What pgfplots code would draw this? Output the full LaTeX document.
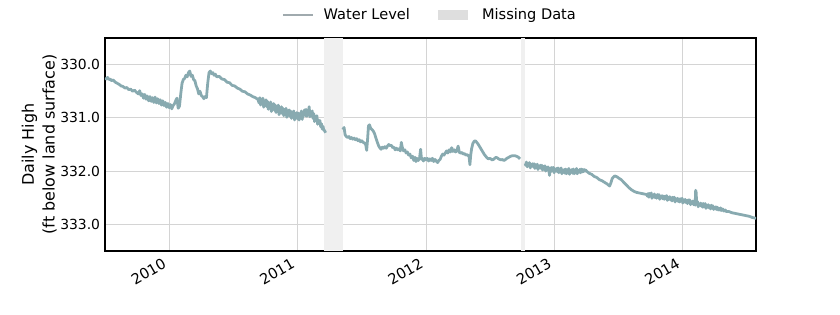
\documentclass[border=0pt]{standalone}
\usepackage{fontspec}
\setmainfont{DejaVu Sans}
\usepackage{pgfplots}
\pgfplotsset{compat=1.18}
\definecolor{wl}{RGB}{136,170,176}
\definecolor{wlleg}{RGB}{160,170,174}
\definecolor{gapc}{RGB}{240,240,240}
\definecolor{gapleg}{RGB}{222,222,222}
\definecolor{gridc}{RGB}{212,212,212}
\begin{document}
\begin{tikzpicture}
\useasboundingbox (-75.6pt,-46.08pt) rectangle (529.2pt,180.72pt);
\begin{axis}[
  at={(0pt,0pt)}, anchor=south west,
  scale only axis, width=468.72pt, height=153.36pt,
  xmin=2009.5, xmax=2014.57,
  ymin=329.5, ymax=333.5, y dir=reverse,
  xtick={2010,2011,2012,2013,2014},
  ytick={330,331,332,333},
  major tick length=0pt,
  grid=major,
  major grid style={gridc, line width=0.6pt},
  axis line style={black, line width=0.8pt},
  tick label style={font=\fontsize{10}{12}\selectfont},
  /pgf/number format/assume math mode=true,
  xticklabel style={font=\fontsize{10.5}{12}\selectfont, xshift=-4pt, rotate=30, anchor=north east, /pgf/number format/1000 sep={}},
  yticklabel style={/pgf/number format/.cd, fixed, fixed zerofill, precision=1, 1000 sep={}},
  ylabel={Daily High\\(ft below land surface)},
  ylabel style={align=center, font=\fontsize{11.5}{15}\selectfont, at={(axis description cs:-0.101,0.5)}, anchor=center},
  legend style={draw=none, fill=none, at={(0.5,1)}, anchor=center, yshift=16.6pt,
    font=\fontsize{10.5}{12}\selectfont,
    nodes={font=\fontsize{10.5}{12}\selectfont},
    /tikz/every odd column/.append style={column sep=5pt},
    /tikz/every even column/.append style={column sep=18pt}},
  legend columns=2,
  legend cell align=left,
]
% missing-data bands
\addplot[fill=gapc, draw=none, forget plot] coordinates {(2011.206,329.5) (2011.354,329.5) (2011.354,333.5) (2011.206,333.5)} -- cycle;
\addplot[fill=gapc, draw=none, forget plot] coordinates {(2012.740,329.5) (2012.768,329.5) (2012.768,333.5) (2012.740,333.5)} -- cycle;
% segment 1
\addplot[wl, line width=2pt, line join=round,
  legend image code/.code={\draw[wlleg, line width=0.8pt] (0pt,0pt) -- (22pt,0pt);}] table {
x y
2009.500 330.25
2009.510 330.27
2009.520 330.24
2009.530 330.28
2009.540 330.27
2009.550 330.30
2009.565 330.29
2009.580 330.33
2009.595 330.35
2009.610 330.37
2009.625 330.40
2009.640 330.41
2009.655 330.44
2009.670 330.43
2009.685 330.47
2009.700 330.46
2009.715 330.50
2009.730 330.48
2009.745 330.52
2009.760 330.55
2009.770 330.49
2009.780 330.58
2009.790 330.55
2009.800 330.63
2009.810 330.56
2009.820 330.65
2009.830 330.59
2009.840 330.68
2009.850 330.60
2009.860 330.69
2009.870 330.62
2009.880 330.71
2009.890 330.61
2009.900 330.72
2009.910 330.64
2009.920 330.73
2009.930 330.66
2009.940 330.76
2009.950 330.68
2009.960 330.77
2009.970 330.71
2009.980 330.80
2009.990 330.73
2010.000 330.81
2010.010 330.75
2010.020 330.83
2010.030 330.77
2010.040 330.74
2010.050 330.68
2010.060 330.63
2010.070 330.82
2010.080 330.78
2010.090 330.55
2010.100 330.35
2010.110 330.28
2010.120 330.26
2010.130 330.20
2010.140 330.23
2010.150 330.15
2010.160 330.12
2010.170 330.22
2010.180 330.20
2010.190 330.28
2010.200 330.30
2010.210 330.40
2010.220 330.45
2010.230 330.55
2010.240 330.50
2010.250 330.58
2010.260 330.60
2010.270 330.64
2010.280 330.60
2010.290 330.62
2010.300 330.35
2010.310 330.15
2010.320 330.12
2010.330 330.17
2010.340 330.15
2010.350 330.20
2010.360 330.18
2010.370 330.23
2010.390 330.22
2010.410 330.27
2010.430 330.28
2010.450 330.33
2010.470 330.34
2010.490 330.39
2010.510 330.40
2010.530 330.44
2010.550 330.46
2010.570 330.50
2010.590 330.51
2010.610 330.55
2010.630 330.57
2010.650 330.60
2010.670 330.62
2010.690 330.65
2010.700 330.72
2010.706 330.62
2010.712 330.76
2010.718 330.65
2010.724 330.73
2010.730 330.63
2010.736 330.80
2010.742 330.69
2010.748 330.75
2010.754 330.66
2010.760 330.79
2010.766 330.69
2010.772 330.84
2010.778 330.72
2010.784 330.80
2010.790 330.70
2010.796 330.88
2010.802 330.76
2010.808 330.82
2010.814 330.73
2010.820 330.86
2010.826 330.76
2010.832 330.90
2010.838 330.79
2010.844 330.86
2010.850 330.76
2010.856 330.94
2010.862 330.82
2010.868 330.88
2010.874 330.79
2010.880 330.92
2010.886 330.82
2010.892 330.96
2010.898 330.85
2010.904 330.92
2010.910 330.82
2010.916 330.99
2010.922 330.88
2010.928 330.93
2010.934 330.85
2010.940 330.97
2010.946 330.87
2010.952 331.01
2010.958 330.90
2010.964 330.97
2010.970 330.87
2010.976 331.04
2010.982 330.93
2010.988 330.98
2010.994 330.90
2011.000 331.02
2011.006 330.91
2011.012 331.04
2011.018 330.92
2011.024 330.98
2011.030 330.87
2011.036 331.03
2011.042 330.91
2011.048 330.95
2011.054 330.85
2011.060 330.96
2011.066 330.84
2011.072 330.97
2011.078 330.85
2011.084 330.91
2011.090 330.79
2011.096 330.98
2011.102 330.88
2011.108 330.94
2011.114 330.87
2011.120 331.01
2011.126 330.92
2011.132 331.07
2011.138 330.97
2011.144 331.05
2011.150 330.96
2011.156 331.12
2011.162 331.04
2011.168 331.11
2011.174 331.05
2011.180 331.17
2011.186 331.11
2011.192 331.21
2011.198 331.16
2011.204 331.23
2011.210 331.24
2011.218 331.28
};
\addlegendentry{Water Level}
% segment 2
\addplot[wl, line width=2pt, line join=round, forget plot] table {
x y
2011.352 331.22
2011.362 331.18
2011.370 331.32
2011.380 331.35
2011.390 331.37
2011.400 331.35
2011.410 331.39
2011.420 331.37
2011.430 331.40
2011.440 331.38
2011.450 331.41
2011.460 331.39
2011.470 331.43
2011.480 331.41
2011.490 331.45
2011.500 331.43
2011.510 331.46
2011.520 331.47
2011.530 331.50
2011.538 331.61
2011.545 331.40
2011.552 331.15
2011.560 331.13
2011.570 331.20
2011.580 331.22
2011.590 331.25
2011.600 331.30
2011.610 331.38
2011.620 331.45
2011.630 331.52
2011.640 331.56
2011.650 331.59
2011.660 331.55
2011.670 331.57
2011.680 331.54
2011.690 331.57
2011.700 331.53
2011.710 331.50
2011.720 331.52
2011.733 331.52
2011.740 331.56
2011.750 331.55
2011.760 331.60
2011.770 331.57
2011.780 331.60
2011.790 331.58
2011.800 331.62
2011.808 331.46
2011.815 331.55
2011.825 331.62
2011.835 331.60
2011.845 331.66
2011.855 331.64
2011.865 331.70
2011.875 331.68
2011.885 331.75
2011.895 331.72
2011.905 331.80
2011.914 331.74
2011.922 331.82
2011.930 331.76
2011.940 331.80
2011.950 331.75
2011.958 331.59
2011.965 331.78
2011.972 331.76
2011.980 331.81
2011.990 331.76
2012.000 331.79
2012.010 331.76
2012.020 331.81
2012.030 331.77
2012.040 331.80
2012.050 331.76
2012.060 331.82
2012.070 331.78
2012.080 331.81
2012.090 331.84
2012.100 331.80
2012.110 331.78
2012.120 331.72
2012.130 331.68
2012.140 331.70
2012.150 331.66
2012.160 331.62
2012.170 331.66
2012.180 331.60
2012.190 331.64
2012.200 331.56
2012.210 331.63
2012.220 331.60
2012.230 331.64
2012.240 331.62
2012.250 331.53
2012.260 331.65
2012.270 331.66
2012.280 331.65
2012.290 331.68
2012.300 331.67
2012.310 331.70
2012.320 331.69
2012.335 331.72
2012.342 331.88
2012.348 331.70
2012.355 331.58
2012.365 331.48
2012.375 331.44
2012.385 331.43
2012.395 331.46
2012.405 331.49
2012.415 331.53
2012.425 331.57
2012.435 331.61
2012.445 331.65
2012.455 331.69
2012.465 331.72
2012.475 331.75
2012.485 331.77
2012.495 331.76
2012.505 331.77
2012.515 331.79
2012.525 331.78
2012.535 331.76
2012.545 331.74
2012.555 331.75
2012.565 331.77
2012.575 331.78
2012.585 331.79
2012.595 331.78
2012.605 331.80
2012.615 331.79
2012.630 331.76
2012.645 331.74
2012.660 331.72
2012.675 331.71
2012.690 331.71
2012.705 331.72
2012.720 331.74
2012.732 331.77
};
% segment 3
\addplot[wl, line width=2pt, line join=round, forget plot] table {
x y
2012.773 331.86
2012.776 331.89
2012.782 331.83
2012.788 331.92
2012.794 331.85
2012.800 331.89
2012.806 331.84
2012.812 331.94
2012.818 331.87
2012.824 331.90
2012.830 331.86
2012.836 331.92
2012.842 331.86
2012.848 331.95
2012.854 331.88
2012.860 331.92
2012.866 331.87
2012.872 331.97
2012.878 331.90
2012.884 331.93
2012.890 331.89
2012.896 331.95
2012.902 331.89
2012.908 331.98
2012.914 331.91
2012.920 331.95
2012.926 331.90
2012.932 332.00
2012.938 331.93
2012.944 331.96
2012.950 331.92
2012.956 331.98
2012.962 332.08
2012.968 331.94
2012.974 332.01
2012.980 331.93
2012.986 331.99
2012.992 331.93
2012.998 332.03
2013.004 331.96
2013.010 331.99
2013.016 331.95
2013.022 332.01
2013.028 331.94
2013.034 332.03
2013.040 331.97
2013.046 332.01
2013.052 331.94
2013.058 332.05
2013.064 331.98
2013.070 332.01
2013.076 331.97
2013.082 332.04
2013.088 331.96
2013.094 332.05
2013.100 331.98
2013.106 332.02
2013.112 331.95
2013.118 332.06
2013.124 331.99
2013.130 332.01
2013.136 331.97
2013.142 332.04
2013.148 331.96
2013.154 332.05
2013.160 331.98
2013.166 332.03
2013.172 331.95
2013.178 332.05
2013.184 331.99
2013.190 332.02
2013.196 331.97
2013.202 332.03
2013.208 331.96
2013.214 332.02
2013.220 331.97
2013.226 332.01
2013.232 331.97
2013.238 332.00
2013.244 331.98
2013.250 332.00
2013.270 332.04
2013.290 332.06
2013.310 332.10
2013.330 332.12
2013.350 332.16
2013.370 332.18
2013.390 332.21
2013.410 332.24
2013.430 332.28
2013.440 332.22
2013.450 332.14
2013.460 332.11
2013.470 332.09
2013.480 332.10
2013.490 332.11
2013.500 332.13
2013.520 332.16
2013.540 332.21
2013.560 332.26
2013.580 332.31
2013.600 332.35
2013.620 332.38
2013.640 332.40
2013.660 332.41
2013.680 332.42
2013.700 332.43
2013.718 332.44
2013.724 332.47
2013.730 332.42
2013.736 332.49
2013.742 332.42
2013.748 332.46
2013.754 332.41
2013.760 332.51
2013.766 332.45
2013.772 332.48
2013.778 332.43
2013.784 332.50
2013.790 332.45
2013.796 332.51
2013.802 332.44
2013.808 332.48
2013.814 332.44
2013.820 332.53
2013.826 332.47
2013.832 332.50
2013.838 332.46
2013.844 332.52
2013.850 332.47
2013.856 332.53
2013.862 332.47
2013.868 332.51
2013.874 332.46
2013.880 332.55
2013.886 332.50
2013.892 332.53
2013.898 332.48
2013.904 332.54
2013.910 332.50
2013.916 332.56
2013.922 332.49
2013.928 332.53
2013.934 332.49
2013.940 332.58
2013.946 332.52
2013.952 332.55
2013.958 332.51
2013.964 332.57
2013.970 332.52
2013.976 332.58
2013.982 332.52
2013.988 332.56
2013.994 332.51
2014.000 332.60
2014.006 332.54
2014.012 332.58
2014.018 332.53
2014.024 332.59
2014.030 332.55
2014.036 332.61
2014.042 332.54
2014.048 332.59
2014.054 332.54
2014.060 332.63
2014.066 332.58
2014.072 332.61
2014.078 332.56
2014.084 332.63
2014.090 332.58
2014.096 332.64
2014.100 332.36
2014.104 332.40
2014.108 332.62
2014.114 332.57
2014.120 332.67
2014.126 332.61
2014.132 332.64
2014.138 332.60
2014.144 332.66
2014.150 332.61
2014.156 332.68
2014.162 332.61
2014.168 332.65
2014.174 332.61
2014.180 332.70
2014.186 332.64
2014.192 332.68
2014.198 332.63
2014.204 332.69
2014.210 332.65
2014.216 332.71
2014.222 332.64
2014.228 332.69
2014.234 332.65
2014.240 332.72
2014.246 332.68
2014.252 332.71
2014.258 332.67
2014.264 332.72
2014.270 332.68
2014.276 332.73
2014.282 332.70
2014.288 332.73
2014.294 332.69
2014.300 332.74
2014.310 332.71
2014.320 332.75
2014.330 332.73
2014.340 332.76
2014.360 332.76
2014.380 332.78
2014.400 332.79
2014.420 332.80
2014.440 332.81
2014.460 332.82
2014.480 332.83
2014.500 332.84
2014.520 332.85
2014.540 332.87
2014.560 332.88
2014.570 332.89
};
\addlegendimage{legend image code/.code={\fill[gapleg] (0pt,-3.4pt) rectangle (21pt,3.4pt); \path (24.5pt,0pt);}}
\addlegendentry{Missing Data}
\end{axis}
\end{tikzpicture}
\end{document}
